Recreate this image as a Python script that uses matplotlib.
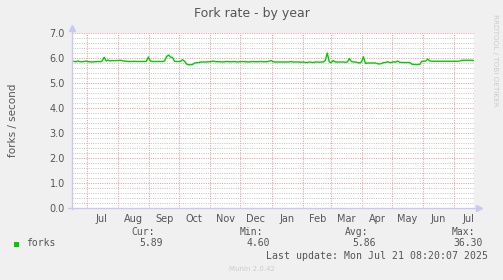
import matplotlib
matplotlib.use("Agg")
import matplotlib.pyplot as plt
import matplotlib.dates as mdates
import pandas as pd
import numpy as np

# ---- data ----
title = "Fork rate - by year"
ylabel = "forks / second"
series_name = "forks"
start = "2024-06-16 08:20"
end = "2025-07-21 08:20"
sample_step = "2D"
forks = [
    5.89, 5.86, 5.85, 5.88, 5.85, 5.85, 5.86, 5.88, 5.85, 5.85,
    5.84, 5.85, 5.85, 5.86, 5.85, 5.88, 6.03, 5.88, 5.92, 5.88,
    5.90, 5.89, 5.90, 5.90, 5.91, 5.89, 5.88, 5.87, 5.86, 5.86,
    5.86, 5.87, 5.86, 5.86, 5.86, 5.86, 5.86, 5.87, 6.04, 5.88,
    5.86, 5.86, 5.86, 5.86, 5.86, 5.86, 5.88, 6.05, 6.12, 6.04,
    6.02, 5.87, 5.86, 5.86, 5.87, 5.93, 5.87, 5.76, 5.73, 5.73,
    5.74, 5.80, 5.81, 5.82, 5.84, 5.84, 5.84, 5.84, 5.85, 5.85,
    5.88, 5.86, 5.85, 5.85, 5.85, 5.84, 5.85, 5.86, 5.85, 5.85,
    5.85, 5.86, 5.84, 5.85, 5.85, 5.86, 5.85, 5.85, 5.84, 5.85,
    5.86, 5.85, 5.85, 5.85, 5.86, 5.85, 5.85, 5.85, 5.87, 5.90,
    5.85, 5.84, 5.84, 5.84, 5.84, 5.84, 5.84, 5.84, 5.84, 5.86,
    5.84, 5.84, 5.84, 5.84, 5.83, 5.84, 5.82, 5.82, 5.84, 5.83,
    5.82, 5.84, 5.84, 5.83, 5.84, 5.84, 5.90, 6.20, 5.84, 5.82,
    5.90, 5.84, 5.84, 5.84, 5.84, 5.84, 5.83, 5.84, 5.98, 5.86,
    5.84, 5.84, 5.82, 5.80, 5.84, 6.05, 5.78, 5.80, 5.80, 5.80,
    5.80, 5.80, 5.77, 5.76, 5.78, 5.82, 5.82, 5.85, 5.82, 5.82,
    5.85, 5.83, 5.88, 5.83, 5.82, 5.82, 5.82, 5.82, 5.82, 5.76,
    5.74, 5.74, 5.74, 5.74, 5.87, 5.87, 5.88, 5.96, 5.88, 5.87,
    5.87, 5.87, 5.87, 5.87, 5.87, 5.87, 5.87, 5.87, 5.87, 5.87,
    5.87, 5.87, 5.87, 5.88, 5.91, 5.91, 5.91, 5.91, 5.91, 5.91,
    5.89,
]
yticks = [0.0, 1.0, 2.0, 3.0, 4.0, 5.0, 6.0, 7.0]
stat_headers = ["Cur:", "Min:", "Avg:", "Max:"]
stat_values = ["5.89", "4.60", "5.86", "36.30"]
last_update = "Last update: Mon Jul 21 08:20:07 2025"
version = "Munin 2.0.42"
watermark = "RRDTOOL / TOBI OETIKER"

dates = pd.date_range(start=start, periods=len(forks), freq=sample_step)

# ---- figure ----
W, H = 503, 280
fig = plt.figure(figsize=(W / 100, H / 100), dpi=100)
fig.patch.set_facecolor("#F0F0F0")

L, R, T, B = 72, 474, 33, 208
ax = fig.add_axes([L / W, 1 - B / H, (R - L) / W, (B - T) / H])
ax.set_facecolor("#FFFFFF")

ax.plot(dates, forks, color="#00CC00", lw=1.0, zorder=5)

ax.set_ylim(0, 7)
ax.set_xlim(pd.Timestamp(start), pd.Timestamp(end))

# grids
gl = dict(lw=0.72, ls=(0, (1.0, 1.3)))
ax.set_yticks(yticks)
ax.set_yticklabels([f"{v:.1f}" for v in yticks])
ax.yaxis.set_minor_locator(matplotlib.ticker.MultipleLocator(0.2))
ax.grid(which="minor", axis="y", color="#C4C4C4", **gl)
ax.grid(which="major", axis="y", color="#F09898", **gl)

ax.xaxis.set_major_locator(mdates.MonthLocator(bymonthday=1))
ax.xaxis.set_major_formatter(matplotlib.ticker.NullFormatter())
ax.xaxis.set_minor_locator(mdates.MonthLocator(bymonthday=16))
ax.xaxis.set_minor_formatter(mdates.DateFormatter("%b"))
ax.grid(which="major", axis="x", color="#F09898", **gl)
ax.set_axisbelow(True)

ax.tick_params(axis="both", which="both", length=0, colors="#555555", labelsize=7)
ax.tick_params(axis="x", which="minor", pad=4)
ax.tick_params(axis="y", pad=5)

for s in ax.spines.values():
    s.set_visible(False)

# axis lines with arrows
axcol = "#C8C8F0"
ax.plot([0, 0], [-0.005, 1.03], transform=ax.transAxes, color=axcol, lw=1, clip_on=False, zorder=6)
ax.plot([-0.01, 1.01], [0, 0], transform=ax.transAxes, color=axcol, lw=1, clip_on=False, zorder=6)
ax.plot([0], [1.03], marker="^", ms=4, color=axcol, transform=ax.transAxes, clip_on=False, zorder=6)
ax.plot([1.012], [0], marker=">", ms=4, color=axcol, transform=ax.transAxes, clip_on=False, zorder=6)

# texts
fig.text(251.5 / W, 1 - 14 / H, title, ha="center", va="center", fontsize=9, color="#555555")
fig.text(13 / W, 1 - 120 / H, ylabel, ha="center", va="center", rotation=90, fontsize=7.5, color="#555555")
fig.text(495 / W, 1 - 60 / H, watermark, ha="center", va="center", rotation=270, fontsize=5.2, color="#CCCCCC")

mono = "DejaVu Sans Mono"
fig.add_artist(plt.Rectangle((14 / W, 1 - 246.5 / H), 5 / W, 5 / H, transform=fig.transFigure,
                             color="#00CC00", lw=0))
fig.text(26 / W, 1 - 243.5 / H, series_name, ha="left", va="center", fontsize=7, family=mono, color="#555555")
hdr_x = [155, 263, 368, 475]
val_x = [163, 270, 376, 483]
for hx, vx, h, v in zip(hdr_x, val_x, stat_headers, stat_values):
    fig.text(hx / W, 1 - 232 / H, h, ha="right", va="center", fontsize=7, family=mono, color="#555555")
    fig.text(vx / W, 1 - 243.5 / H, v, ha="right", va="center", fontsize=7, family=mono, color="#555555")
fig.text(488 / W, 1 - 256 / H, last_update, ha="right", va="center", fontsize=7.1, family=mono, color="#555555")
fig.text(251.5 / W, 1 - 269 / H, version, ha="center", va="center", fontsize=5, color="#CCCCCC")

fig.savefig("out.png", dpi=100, facecolor=fig.get_facecolor())
